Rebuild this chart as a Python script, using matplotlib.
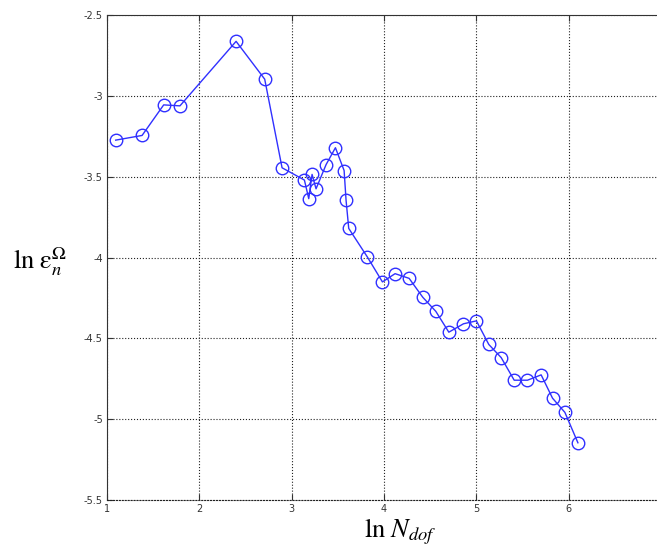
import matplotlib
matplotlib.use('Agg')
from matplotlib import pyplot as plt
import numpy as np

# ln N_dof
ln_ndof = [1.094, 1.38, 1.614, 1.79, 2.398, 2.708, 2.896, 3.138, 3.185, 3.221,
           3.264, 3.373, 3.474, 3.568, 3.589, 3.618, 3.82, 3.983, 4.12, 4.272,
           4.42, 4.561, 4.702, 4.861, 5.001, 5.135, 5.269, 5.41, 5.554, 5.702,
           5.825, 5.959, 6.1]
# ln of the error
ln_err = [-3.274, -3.245, -3.056, -3.062, -2.663, -2.897, -3.445, -3.521, -3.636, -3.486,
          -3.575, -3.425, -3.321, -3.462, -3.645, -3.82, -3.997, -4.151, -4.1, -4.129,
          -4.246, -4.333, -4.462, -4.41, -4.392, -4.538, -4.619, -4.759, -4.759, -4.726,
          -4.87, -4.958, -5.146]

x_ticks = [1, 2, 3, 4, 5, 6]
y_ticks = [-5.5, -5, -4.5, -4, -3.5, -3, -2.5]
y_ticklabels = ['-5.5', '-5', '-4.5', '-4', '-3.5', '-3', '-2.5']

plt.rcParams['mathtext.fontset'] = 'stix'

f = plt.figure(figsize=(6.57, 5.54), dpi=100)
ax = f.add_axes([107 / 657, 54 / 554, 554 / 657, 485 / 554])

ax.plot(np.array(ln_ndof), np.array(ln_err), color='#3030ff', linewidth=1.0,
        marker='o', markersize=9, markerfacecolor='none', markeredgecolor='#3030ff',
        markeredgewidth=1.0)

ax.set_xlim(1, 7)
ax.set_ylim(-5.5, -2.5)
ax.set_xticks(x_ticks)
ax.set_xticklabels([str(t) for t in x_ticks])
ax.set_yticks(y_ticks)
ax.set_yticklabels(y_ticklabels)
ax.grid(True, linestyle=':', color='#222222', linewidth=0.8)
ax.tick_params(direction='in', length=4, labelsize=7, colors='#333333',
               top=True, bottom=True, left=True, right=False, pad=3)
ax.spines['bottom'].set_linestyle(':')
ax.spines['bottom'].set_linewidth(0.8)
ax.spines['bottom'].set_color('#222222')
ax.spines['right'].set_visible(False)
ax.spines['top'].set_color('#333333')
ax.spines['left'].set_color('#333333')

f.text(40 / 657, 1 - 262 / 554, r'$\mathrm{ln}\ \mathrm{\varepsilon}_{\mathit{n}}^{\Omega}$',
       fontsize=19, ha='center', va='center')
f.text(400 / 657, 1 - 532 / 554, r'$\mathrm{ln}\ N_{dof}$',
       fontsize=19, ha='center', va='center')

plt.savefig('out.png', dpi=100)
